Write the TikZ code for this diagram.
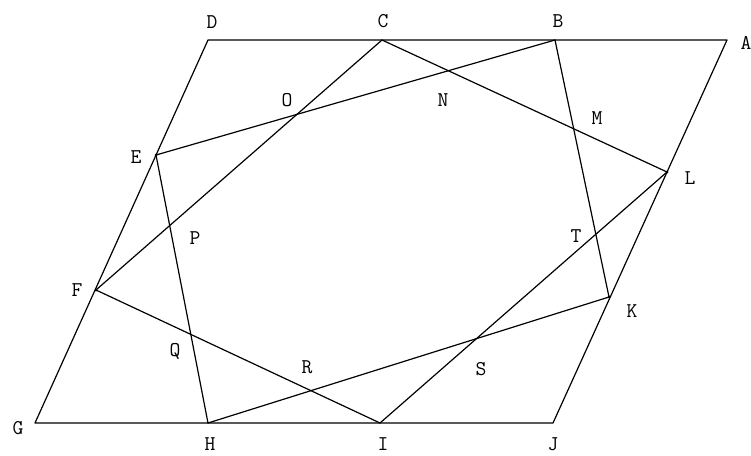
\documentclass[tikz,border=0pt]{standalone}
\usepackage{tikz}
\usetikzlibrary{positioning,calc}
\tikzset{
  edge/.style={line width=1.2pt, line cap=round, line join=round},
  chord/.style={line width=1.2pt, line cap=round},
  ptlabel/.style={font=\ttfamily\fontsize{21}{21}\selectfont, inner sep=0pt},
  vdot/.style={circle, fill=black, inner sep=0pt, minimum size=3pt}
}

\begin{document}
\begin{tikzpicture}[x=1pt, y=-1pt]
  \useasboundingbox (0,0) rectangle (751,455);
  % corners and points on the sides
  \coordinate (A) at (727,40);
  \coordinate (B) at (555,40);
  \coordinate (C) at (382,40);
  \coordinate (D) at (208,40);
  \coordinate (E) at (156,155);
  \coordinate (F) at (96,290);
  \coordinate (G) at (35,423);
  \coordinate (H) at (208,423);
  \coordinate (I) at (380,423);
  \coordinate (J) at (553,423);
  \coordinate (K) at (609,297);
  \coordinate (L) at (667,172);
  % parallelogram
  \draw[edge] (D) -- (A) -- (J) -- (G) -- cycle;
  % inner lines
  \draw[chord] (C) -- (F);
  \draw[chord] (B) -- (E);
  \draw[chord] (C) -- (L);
  \draw[chord] (B) -- (K);
  \draw[chord] (L) -- (I);
  \draw[chord] (K) -- (H);
  \draw[chord] (F) -- (I);
  \draw[chord] (E) -- (H);
  \foreach \p in {E,F,K,L}
    \node[vdot] at (\p) {};
  % labels
  \node[ptlabel] (lD) at (212,22) {D};
  \node[ptlabel] (lC) at (383,21) {C};
  \node[ptlabel] (lB) at (558,21) {B};
  \node[ptlabel] (lA) at (746,43) {A};
  \node[ptlabel] (lL) at (690,178) {L};
  \node[ptlabel] (lM) at (597,118) {M};
  \node[ptlabel] (lN) at (443,100) {N};
  \node[ptlabel] (lO) at (287,100) {O};
  \node[ptlabel] (lE) at (136,157) {E};
  \node[ptlabel] (lP) at (195,238) {P};
  \node[ptlabel] (lT) at (576,236) {T};
  \node[ptlabel] (lF) at (77,290) {F};
  \node[ptlabel] (lK) at (632,311) {K};
  \node[ptlabel] (lQ) at (175,351) {Q};
  \node[ptlabel] (lR) at (307,367) {R};
  \node[ptlabel] (lS) at (481,369) {S};
  \node[ptlabel] (lG) at (18,428) {G};
  \node[ptlabel] (lH) at (210,444) {H};
  \node[ptlabel] (lI) at (383,444) {I};
  \node[ptlabel] (lJ) at (553,444) {J};
\end{tikzpicture}
\end{document}
